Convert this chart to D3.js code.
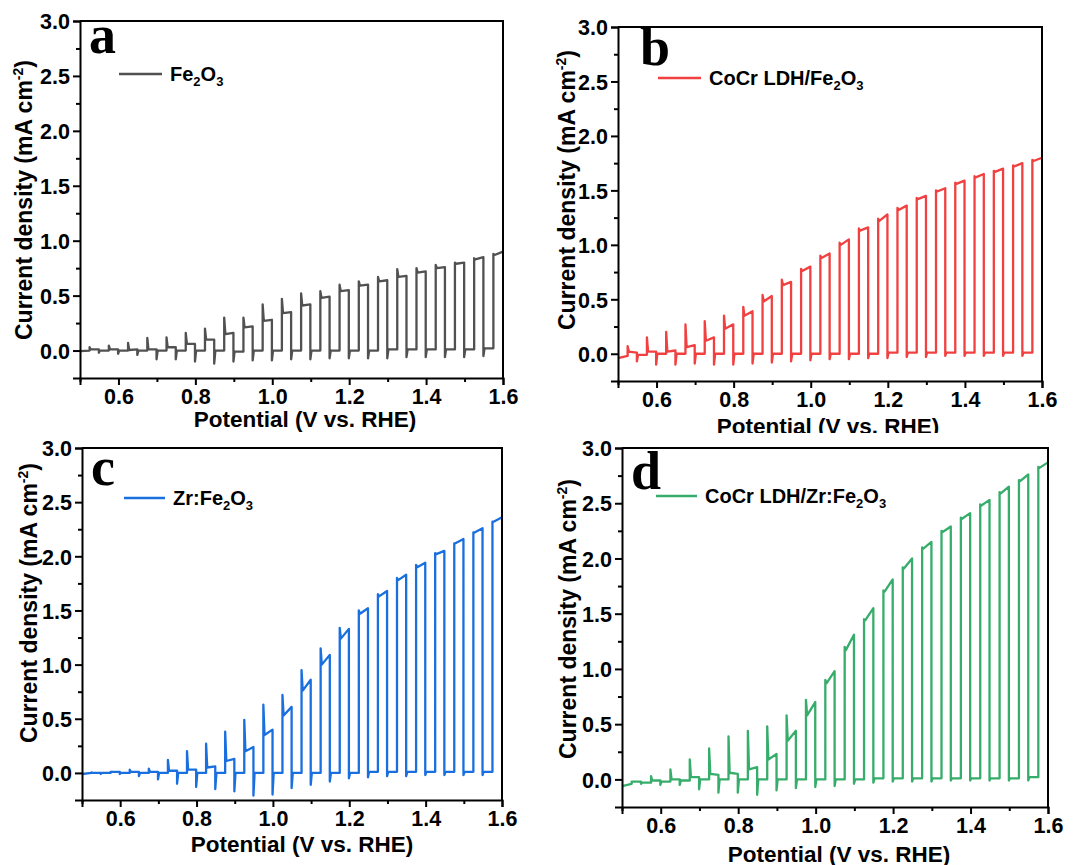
<!DOCTYPE html>
<html>
<head>
<meta charset="utf-8">
<script src="https://cdn.jsdelivr.net/npm/d3@7"></script>
<style>
  html, body { margin: 0; padding: 0; background: #fff; }
  svg { display: block; }
  text { font-family: "Liberation Sans", Arial, sans-serif; font-weight: bold; fill: #000; }
  .letter { font-family: "Liberation Serif", "Times New Roman", serif; font-weight: bold; }
</style>
</head>
<body>
<svg id="fig" width="1088" height="865"></svg>
<script>
// Chopped-light LSV scans: light switched on / off every ~25 mV
const potentialOn  = [0.525, 0.575, 0.625, 0.675, 0.725, 0.775, 0.825, 0.875, 0.925, 0.975, 1.025,
                      1.075, 1.125, 1.175, 1.225, 1.275, 1.325, 1.375, 1.425, 1.475, 1.525, 1.575];
const potentialOff = [0.549, 0.599, 0.649, 0.699, 0.749, 0.799, 0.849, 0.899, 0.949, 0.999, 1.049,
                      1.099, 1.149, 1.199, 1.249, 1.299, 1.349, 1.399, 1.449, 1.499, 1.549, 1.600];

const xTicks = [0.6, 0.8, 1.0, 1.2, 1.4, 1.6];
const xMinorTicks = [0.5, 0.7, 0.9, 1.1, 1.3, 1.5];
const yTicks = [0.0, 0.5, 1.0, 1.5, 2.0, 2.5, 3.0];
const yMinorTicks = [0.25, 0.75, 1.25, 1.75, 2.25, 2.75];

// Fe2O3
const feStart = -0.005, fePreOn = 0.0;
const feSpike        = [0.03, 0.045, 0.07, 0.115, 0.12, 0.16, 0.20, 0.30, 0.30, 0.42, 0.47, 0.52, 0.54, 0.60, 0.63, 0.67, 0.74, 0.75, 0.78, 0.80, 0.84, 0.88];
const fePlateauStart = [0.01, 0.01, 0.005, 0.01, 0.03, 0.06, 0.10, 0.15, 0.21, 0.27, 0.34, 0.41, 0.48, 0.54, 0.59, 0.63, 0.67, 0.71, 0.75, 0.79, 0.83, 0.87];
const fePlateauEnd   = [0.01, 0.01, 0.01, 0.01, 0.03, 0.06, 0.10, 0.16, 0.22, 0.28, 0.35, 0.42, 0.49, 0.55, 0.60, 0.64, 0.68, 0.72, 0.76, 0.80, 0.85, 0.90];
const feDip          = [-0.02, -0.03, -0.04, -0.08, -0.08, -0.10, -0.12, -0.10, -0.09, -0.09, -0.08, -0.08, -0.07, -0.07, -0.07, -0.07, -0.06, -0.06, -0.06, -0.06, -0.05];
const feDark         = [0.0, 0.0, 0.0, 0.0, 0.0, 0.0, 0.0, -0.01, 0.0, 0.0, 0.0, 0.0, 0.0, 0.0, 0.0, 0.01, 0.01, 0.01, 0.01, 0.01, 0.02];

// CoCr LDH/Fe2O3
const ldhStart = -0.04, ldhPreOn = -0.02;
const ldhSpike        = [0.07, 0.15, 0.20, 0.27, 0.30, 0.35, 0.43, 0.54, 0.68, 0.78, 0.90, 1.02, 1.15, 1.24, 1.34, 1.43, 1.50, 1.57, 1.63, 1.68, 1.73, 1.78];
const ldhPlateauStart = [0.02, 0.02, 0.02, 0.06, 0.12, 0.23, 0.35, 0.48, 0.63, 0.76, 0.88, 1.00, 1.13, 1.22, 1.32, 1.42, 1.49, 1.56, 1.62, 1.67, 1.72, 1.77];
const ldhPlateauEnd   = [0.01, 0.02, 0.03, 0.08, 0.15, 0.27, 0.39, 0.53, 0.66, 0.80, 0.92, 1.05, 1.16, 1.28, 1.36, 1.45, 1.52, 1.59, 1.65, 1.70, 1.75, 1.80];
const ldhDip          = [-0.07, -0.10, -0.10, -0.09, -0.10, -0.10, -0.09, -0.08, -0.07, -0.06, -0.05, -0.05, -0.04, -0.04, -0.03, -0.03, -0.02, -0.02, -0.02, -0.02, -0.02];
const ldhDark         = [-0.01, 0.0, 0.0, 0.0, 0.0, 0.0, 0.0, 0.0, 0.0, 0.0, 0.0, 0.0, 0.0, 0.01, 0.01, 0.01, 0.01, 0.01, 0.01, 0.01, 0.01];

// Zr:Fe2O3
const zrStart = -0.01, zrPreOn = 0.0;
const zrSpike        = [0.005, 0.01, 0.03, 0.04, 0.12, 0.20, 0.27, 0.38, 0.49, 0.63, 0.72, 0.95, 1.15, 1.34, 1.50, 1.65, 1.80, 1.92, 2.03, 2.12, 2.22, 2.32];
const zrPlateauStart = [0.0, 0.01, 0.01, 0.01, 0.02, 0.03, 0.05, 0.11, 0.20, 0.35, 0.53, 0.76, 1.00, 1.24, 1.47, 1.63, 1.78, 1.90, 2.02, 2.12, 2.22, 2.32];
const zrPlateauEnd   = [0.0, 0.01, 0.01, 0.01, 0.02, 0.03, 0.06, 0.13, 0.24, 0.40, 0.61, 0.86, 1.09, 1.33, 1.52, 1.68, 1.83, 1.94, 2.05, 2.16, 2.26, 2.36];
const zrDip          = [-0.01, -0.01, -0.03, -0.06, -0.10, -0.13, -0.15, -0.17, -0.21, -0.20, -0.14, -0.11, -0.08, -0.05, -0.04, -0.03, -0.03, -0.02, -0.02, -0.02, -0.02];
const zrDark         = [0.0, 0.0, 0.0, 0.0, 0.0, 0.0, 0.0, 0.0, 0.0, 0.0, 0.0, 0.0, 0.0, 0.0, 0.01, 0.01, 0.01, 0.01, 0.01, 0.01, 0.01];

// CoCr LDH/Zr:Fe2O3
const ldhZrStart = -0.06, ldhZrPreOn = -0.04;
const ldhZrSpike        = [-0.02, 0.03, 0.09, 0.18, 0.28, 0.39, 0.44, 0.48, 0.58, 0.72, 0.90, 1.20, 1.45, 1.71, 1.92, 2.10, 2.25, 2.37, 2.49, 2.60, 2.71, 2.83];
const ldhZrPlateauStart = [-0.02, -0.01, 0.0, 0.02, 0.05, 0.06, 0.09, 0.18, 0.35, 0.58, 0.87, 1.17, 1.44, 1.70, 1.91, 2.09, 2.24, 2.36, 2.48, 2.59, 2.70, 2.82];
const ldhZrPlateauEnd   = [-0.02, -0.01, 0.0, 0.02, 0.04, 0.05, 0.11, 0.23, 0.44, 0.70, 0.98, 1.31, 1.55, 1.81, 2.00, 2.15, 2.29, 2.41, 2.53, 2.65, 2.76, 2.87];
const ldhZrDip          = [-0.04, -0.05, -0.05, -0.09, -0.12, -0.12, -0.14, -0.10, -0.08, -0.07, -0.06, -0.04, -0.03, -0.02, -0.02, -0.02, -0.01, -0.01, -0.01, -0.01, -0.01];
const ldhZrDark         = [-0.03, -0.02, -0.01, 0.0, 0.0, 0.0, 0.0, 0.0, 0.0, 0.0, 0.0, 0.0, 0.01, 0.01, 0.01, 0.01, 0.01, 0.01, 0.01, 0.01, 0.02];

const panels = [
  { letter: "a", color: "#515151", legend: [["Fe"], ["2", "sub"], ["O"], ["3", "sub"]],
    start: feStart, preOn: fePreOn, spike: feSpike, pStart: fePlateauStart, pEnd: fePlateauEnd, dip: feDip, dark: feDark,
    box: { left: 80, right: 503, top: 21, bottom: 378 }, letterPos: [89, 53], legendPos: [119, 162, 74],
    yTitle: [32, 200], xTitle: [305, 427] },
  { letter: "b", color: "#F14040", legend: [["CoCr LDH/Fe"], ["2", "sub"], ["O"], ["3", "sub"]],
    start: ldhStart, preOn: ldhPreOn, spike: ldhSpike, pStart: ldhPlateauStart, pEnd: ldhPlateauEnd, dip: ldhDip, dark: ldhDark,
    box: { left: 618, right: 1042, top: 27, bottom: 381 }, letterPos: [640, 65], legendPos: [658, 701, 78],
    yTitle: [575, 190], xTitle: [828, 434] },
  { letter: "c", color: "#1A6FDF", legend: [["Zr:Fe"], ["2", "sub"], ["O"], ["3", "sub"]],
    start: zrStart, preOn: zrPreOn, spike: zrSpike, pStart: zrPlateauStart, pEnd: zrPlateauEnd, dip: zrDip, dark: zrDark,
    box: { left: 82, right: 502, top: 448, bottom: 800 }, letterPos: [91, 485], legendPos: [124, 165, 498],
    yTitle: [37, 603], xTitle: [302, 852] },
  { letter: "d", color: "#37AD6B", legend: [["CoCr LDH/Zr:Fe"], ["2", "sub"], ["O"], ["3", "sub"]],
    start: ldhZrStart, preOn: ldhZrPreOn, spike: ldhZrSpike, pStart: ldhZrPlateauStart, pEnd: ldhZrPlateauEnd, dip: ldhZrDip, dark: ldhZrDark,
    box: { left: 622, right: 1048, top: 448, bottom: 807 }, letterPos: [631, 489], legendPos: [656, 697, 496],
    yTitle: [576, 619], xTitle: [839, 862] }
];

const svg = d3.select("#fig");

function tracePoints(p) {
  const pts = [[0.5, p.start], [potentialOn[0], p.preOn]];
  for (let k = 0; k < potentialOn.length; k++) {
    pts.push([potentialOn[k], p.spike[k]]);
    pts.push([potentialOn[k] + 0.003, p.pStart[k]]);
    pts.push([potentialOff[k], p.pEnd[k]]);
    if (k < potentialOn.length - 1) {
      pts.push([potentialOff[k], p.dip[k]]);
      pts.push([potentialOff[k] + 0.003, p.dark[k]]);
      pts.push([potentialOn[k + 1], p.dark[k]]);
    }
  }
  return pts;
}

function drawPanel(p, idx) {
  const b = p.box;
  const g = svg.append("g");
  if (idx === 3) {
    // lower-right panel sits on its own white tile
    g.append("rect").attr("x", 544).attr("y", 433).attr("width", 544).attr("height", 432).attr("fill", "#fff");
  }
  const x = d3.scaleLinear().domain([0.5, 1.6]).range([b.left, b.right]);
  const y = d3.scaleLinear().domain([-0.25, 3.0]).range([b.bottom, b.top]);

  // data trace
  const line = d3.line().x(d => x(d[0])).y(d => y(d[1]));
  g.append("path").datum(tracePoints(p))
    .attr("d", line).attr("fill", "none").attr("stroke", p.color)
    .attr("stroke-width", 2.3).attr("stroke-linejoin", "round");

  // axes
  const xAxis = g.append("g").attr("transform", `translate(0,${b.bottom})`)
    .call(d3.axisBottom(x).tickValues(xTicks).tickFormat(d3.format(".1f")).tickSize(7).tickPadding(4));
  g.append("g").attr("transform", `translate(0,${b.bottom})`)
    .call(d3.axisBottom(x).tickValues(xMinorTicks).tickFormat("").tickSize(4))
    .call(a => a.select(".domain").remove());
  const yAxis = g.append("g").attr("transform", `translate(${b.left},0)`)
    .call(d3.axisLeft(y).tickValues(yTicks).tickFormat(d3.format(".1f")).tickSize(7).tickPadding(3));
  g.append("g").attr("transform", `translate(${b.left},0)`)
    .call(d3.axisLeft(y).tickValues(yMinorTicks).tickFormat("").tickSize(4))
    .call(a => a.select(".domain").remove());

  g.selectAll(".domain").attr("stroke", "#000").attr("stroke-width", 2);
  g.selectAll(".tick line").attr("stroke", "#000").attr("stroke-width", 2);
  g.selectAll(".tick text").style("font-family", '"Liberation Sans", Arial, sans-serif')
    .style("font-weight", "bold").style("font-size", "21.5px").attr("fill", "#000");
  xAxis.selectAll(".tick text").attr("dy", "0.71em");
  yAxis.selectAll(".tick text").attr("dy", "0.36em");

  // top and right frame
  g.append("path")
    .attr("d", `M${b.left},${b.top}H${b.right}V${b.bottom}`)
    .attr("fill", "none").attr("stroke", "#000").attr("stroke-width", 2);

  // panel letter
  g.append("text").attr("class", "letter")
    .attr("x", p.letterPos[0]).attr("y", p.letterPos[1])
    .style("font-size", "54px").text(p.letter);

  // legend
  const [lx1, lx2, ly] = p.legendPos;
  g.append("line").attr("x1", lx1).attr("x2", lx2).attr("y1", ly).attr("y2", ly)
    .attr("stroke", p.color).attr("stroke-width", 2.3);
  const lt = g.append("text").attr("x", lx2 + 8).attr("y", ly + 7).style("font-size", "20px");
  p.legend.forEach(([s, kind]) => {
    if (kind === "sub") {
      lt.append("tspan").attr("dy", 5).style("font-size", "13px").text(s);
    } else {
      const t = lt.append("tspan").text(s);
      if (lt.selectAll("tspan").size() > 1) t.attr("dy", -5);
    }
  });

  // axis titles
  const yt = g.append("text")
    .attr("transform", `translate(${p.yTitle[0]},${p.yTitle[1]}) rotate(-90)`)
    .attr("text-anchor", "middle").style("font-size", "23px");
  yt.append("tspan").text("Current density (mA cm");
  yt.append("tspan").attr("dy", -9).style("font-size", "14px").text("-2");
  yt.append("tspan").attr("dy", 9).text(")");

  g.append("text").attr("x", p.xTitle[0]).attr("y", p.xTitle[1])
    .attr("text-anchor", "middle").style("font-size", "22.5px")
    .text("Potential (V vs. RHE)");
}

panels.forEach(drawPanel);
</script>
</body>
</html>
